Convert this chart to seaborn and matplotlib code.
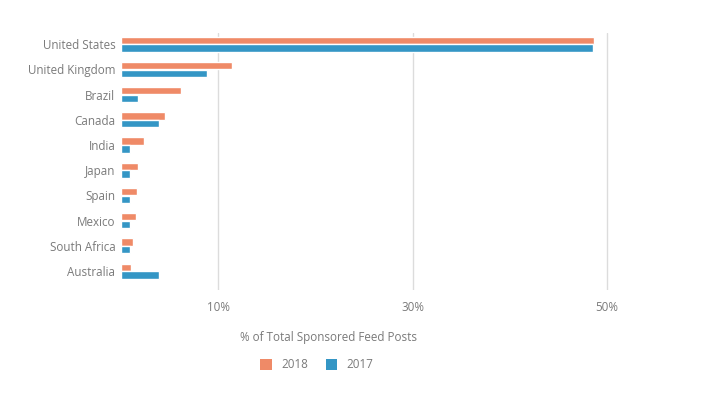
import matplotlib
matplotlib.use("Agg")
import matplotlib.pyplot as plt
import seaborn as sns
import pandas as pd

countries = ["United States", "United Kingdom", "Brazil", "Canada", "India",
             "Japan", "Spain", "Mexico", "South Africa", "Australia"]
vals_2018 = [48.7, 11.4, 6.15, 4.5, 2.4, 1.8, 1.6, 1.55, 1.25, 1.05]
vals_2017 = [48.6, 8.8, 1.8, 3.9, 0.95, 0.95, 0.95, 0.95, 0.9, 3.9]
years = ["2018", "2017"]
tick_vals = [10, 30, 50]
tick_labels = ["10%", "30%", "50%"]

df = pd.DataFrame({
    "country": countries * 2,
    "value": vals_2018 + vals_2017,
    "year": [years[0]] * len(countries) + [years[1]] * len(countries),
})

sns.set_theme(style="white")
plt.rcParams["font.family"] = ["Open Sans", "DejaVu Sans"]
TXT = "#7a7a7a"
FS = 8.4

fig = plt.figure(figsize=(7.15, 3.99), dpi=100)
ax = fig.add_axes([121/715, 1-290/399, (609-121)/715, (290-33)/399])

sns.barplot(data=df, y="country", x="value", hue="year", orient="h",
            palette={"2018": "#ef8a67", "2017": "#3496c5"},
            width=0.62, gap=0.06, saturation=1, ax=ax, legend=False,
            order=countries, hue_order=years)

ax.set_xlim(0, 50.2)
ax.set_ylim(9.75, -0.44)
ax.set_xticks(tick_vals)
ax.set_xticklabels(tick_labels)
ax.set_xlabel("")
ax.set_ylabel("")
for s in ax.spines.values():
    s.set_visible(False)
ax.grid(axis="x", color="#dcdcdc", linewidth=1)
ax.set_axisbelow(True)
ax.tick_params(axis="x", length=0, pad=8, labelsize=FS, labelcolor=TXT)
ax.tick_params(axis="y", length=0, pad=4, labelsize=FS, labelcolor=TXT)

fig.text(328/715, 1-338/399, "% of Total Sponsored Feed Posts",
         ha="center", va="center", fontsize=FS, color=TXT)

from matplotlib.patches import Patch
handles = [Patch(facecolor="#ef8a67", edgecolor="none"),
           Patch(facecolor="#3496c5", edgecolor="none")]
fig.legend(handles, years, loc="center", bbox_to_anchor=(317/715, 1-365/399),
           ncol=2, frameon=False, fontsize=FS, labelcolor=TXT,
           handlelength=1.0, handleheight=1.0, columnspacing=1.5, handletextpad=0.8)

fig.savefig("out.png", dpi=100)
